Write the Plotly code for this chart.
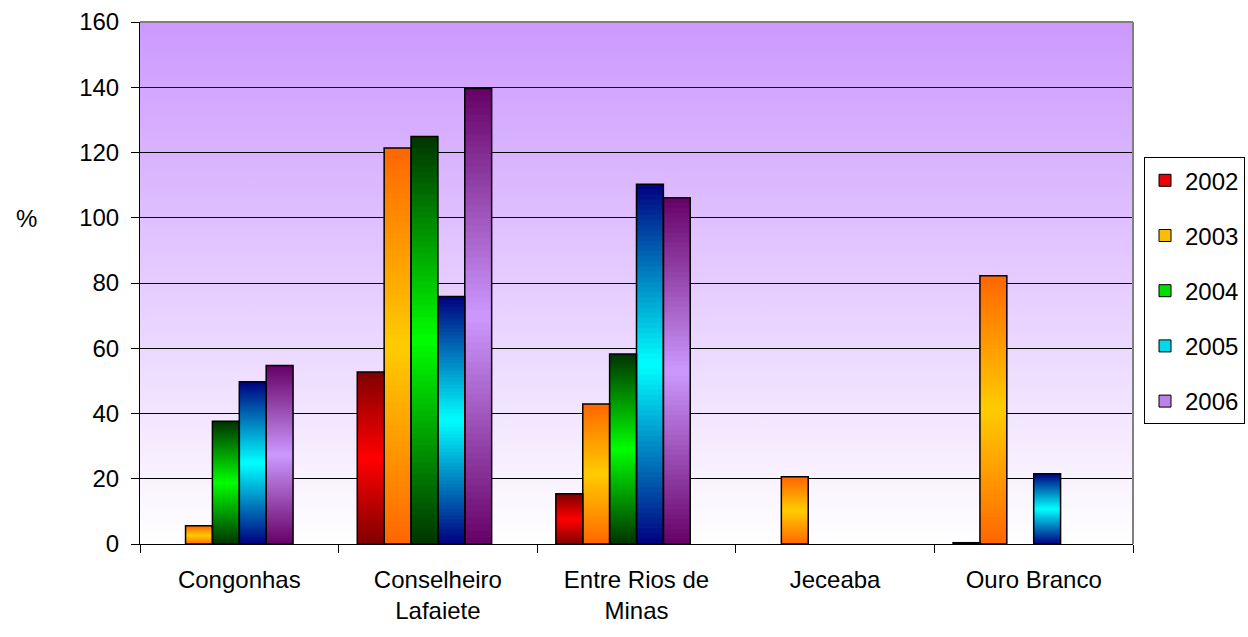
import base64
import plotly.graph_objects as go

# ---------------- data ----------------
categories = ["Congonhas", "Conselheiro<br>Lafaiete", "Entre Rios de<br>Minas", "Jeceaba", "Ouro Branco"]
years = ["2002", "2003", "2004", "2005", "2006"]
v2002 = [None, 52.7, 15.4, None, 0.4]
v2003 = [5.6, 121.4, 42.9, 20.6, 82.2]
v2004 = [37.6, 124.9, 58.2, None, None]
v2005 = [49.7, 75.9, 110.3, None, 21.5]
v2006 = [54.7, 139.6, 106.1, None, None]
v_blank = [None, None, None, None, None]  # empty sixth series slot (no data)
y_ticks = [0, 20, 40, 60, 80, 100, 120, 140, 160]

series = [v2002, v2003, v2004, v2005, v2006]

# ---------------- styles ----------------
end_colors = [(128, 0, 0), (255, 102, 0), (0, 51, 0), (0, 0, 128), (102, 0, 102)]
mid_colors = [(255, 0, 0), (255, 204, 0), (0, 255, 0), (0, 255, 255), (204, 153, 255)]
FONT = "Liberation Sans, Arial, sans-serif"
FS = 24
N_SEG = 70


def mix(a, b, t):
    return "rgb(%d,%d,%d)" % tuple(round(a[k] * (1 - t) + b[k] * t) for k in range(3))


fig = go.Figure()

# gradient bar segments (stacked inside each offset group; each overlaps the next to hide seams)
for yi, (yr, vals) in enumerate(zip(years, series)):
    for i in range(N_SEG):
        p = (i + 0.5) / N_SEG
        t = abs(p - 0.5) * 2  # 0 at centre, 1 at ends
        col = mix(mid_colors[yi], end_colors[yi], t)
        stretch = 1.0 if i == N_SEG - 1 else 2.0
        seg_h = [None if v is None else v / N_SEG * stretch for v in vals]
        seg_b = [0 if v is None else v * i / N_SEG for v in vals]
        fig.add_trace(go.Bar(
            x=categories, y=seg_h, base=seg_b, offsetgroup=yr, legendgroup=yr,
            showlegend=False, hoverinfo="skip",
            marker=dict(color=col, line=dict(width=0)),
        ))

# black outlines
for yi, (yr, vals) in enumerate(zip(years, series)):
    fig.add_trace(go.Bar(
        x=categories, y=vals, offsetgroup=yr, legendgroup=yr, name=yr,
        showlegend=False,
        marker=dict(color="rgba(0,0,0,0)", line=dict(color="black", width=1.5)),
    ))

# legend entries
for yi, yr in enumerate(years):
    fig.add_trace(go.Bar(
        x=categories, y=[None] * len(categories), offsetgroup=yr, legendgroup=yr, name=yr,
        marker=dict(color=mix(mid_colors[yi], end_colors[yi], 0.15), line=dict(color="black", width=1)),
    ))

# empty sixth slot
fig.add_trace(go.Bar(x=categories, y=v_blank, offsetgroup="blank", showlegend=False,
                     marker=dict(color="rgba(0,0,0,0)", line=dict(width=0))))

# background gradient image
svg = ("<svg xmlns='http://www.w3.org/2000/svg' width='10' height='100' preserveAspectRatio='none'>"
       "<defs><linearGradient id='g' x1='0' y1='0' x2='0' y2='1'>"
       "<stop offset='0' stop-color='#CC99FF'/><stop offset='1' stop-color='#FFFFFF'/>"
       "</linearGradient></defs><rect width='10' height='100' fill='url(#g)'/></svg>")
src = "data:image/svg+xml;base64," + base64.b64encode(svg.encode()).decode()

fig.update_layout(
    width=1248, height=637,
    margin=dict(l=140, r=115, t=22, b=93, autoexpand=False),
    paper_bgcolor="white", plot_bgcolor="rgba(0,0,0,0)",
    barmode="group", bargap=0.188, bargroupgap=0,
    font=dict(family=FONT, size=FS, color="black"),
    images=[dict(source=src, xref="paper", yref="paper", x=0, y=1, sizex=1, sizey=1,
                 sizing="stretch", xanchor="left", yanchor="top", layer="below")],
    legend=dict(x=1.1128, y=0.741, xanchor="right", yanchor="top",
                bordercolor="black", borderwidth=1, bgcolor="white",
                font=dict(family=FONT, size=FS), tracegroupgap=21, itemclick=False,
                itemwidth=30),
    shapes=[
        dict(type="line", xref="paper", yref="paper", x0=0, x1=1, y0=1, y1=1,
             line=dict(color="#808080", width=2), layer="above"),
        dict(type="line", xref="paper", yref="paper", x0=1, x1=1, y0=0, y1=1,
             line=dict(color="#808080", width=2), layer="above"),
    ],
    annotations=[dict(text="%", xref="paper", yref="paper", x=-0.114, y=0.6245,
                      xanchor="center", yanchor="middle", showarrow=False,
                      font=dict(family=FONT, size=FS))],
    showlegend=True,
)

fig.update_xaxes(
    showline=True, linecolor="black", linewidth=1,
    ticks="outside", ticklen=8, tickcolor="black", tickson="boundaries",
    showgrid=False, tickfont=dict(family=FONT, size=FS), ticklabelstandoff=14,
)
fig.update_yaxes(
    range=[0, 160], tickvals=y_ticks, ticks="outside", ticklen=8, tickcolor="black",
    showline=True, linecolor="black", linewidth=1,
    showgrid=True, gridcolor="black", gridwidth=1, zeroline=False,
    ticklabelstandoff=7, tickfont=dict(family=FONT, size=FS),
)

fig.write_html("out.html")
